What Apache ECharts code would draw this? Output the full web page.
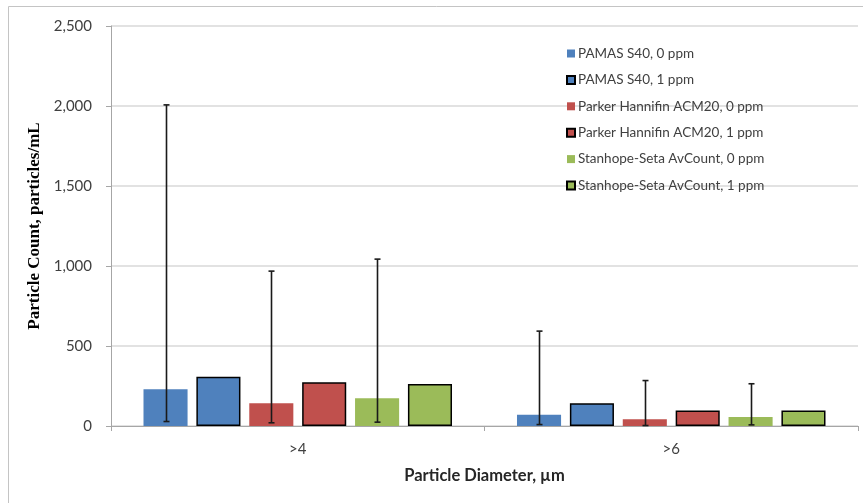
<!DOCTYPE html>
<html>
<head>
<meta charset="utf-8">
<script src="https://cdn.jsdelivr.net/npm/echarts@6/dist/echarts.min.js"></script>
<style>
  html, body { margin: 0; padding: 0; background: #fff; }
  #chart { width: 863px; height: 503px; }
</style>
</head>
<body>
<div id="chart"></div>
<script>
// Particle size classes on the x axis
const categories = ['>4', '>6'];

// Mean particle counts (particles/mL) per instrument and additive level
const pamas0 = [229, 71];
const pamas1 = [308, 142];
const parker0 = [142, 42];
const parker1 = [273, 97];
const stanhope0 = [173, 57];
const stanhope1 = [262, 97];

// Min / max ranges shown as error bars on the 0 ppm results
const pamas0Low = [28, 9];
const pamas0High = [2007, 593];
const parker0Low = [20, 3];
const parker0High = [968, 284];
const stanhope0Low = [24, 7];
const stanhope0High = [1043, 264];

// Y axis ticks
const yTicks = [0, 500, 1000, 1500, 2000, 2500];

const BLUE = '#4F81BD', RED = '#C0504D', GREEN = '#9BBB59';
const BAR_FRAC = 0.118;   // bar width as a share of the category band
const GAP_FRAC = 0.20;    // gap between bars as a share of bar width
const FONT = 'Lato, "Open Sans", sans-serif';

function barSeries(name, data, color, outlined) {
  return {
    name: name,
    type: 'bar',
    data: data,
    barWidth: (BAR_FRAC * 100) + '%',
    barGap: (GAP_FRAC * 100) + '%',
    itemStyle: outlined
      ? { color: color, borderColor: '#000', borderWidth: 1.5 }
      : { color: color, borderColor: color, borderWidth: 0 },
    emphasis: { disabled: true },
    z: 2
  };
}

// Range whiskers drawn at the centre of the bar in slot `slot`
function errorSeries(low, high, slot) {
  const data = categories.map((c, i) => [i, low[i], high[i]]);
  return {
    type: 'custom',
    silent: true,
    z: 5,
    data: data,
    renderItem: function (params, api) {
      const idx = api.value(0);
      const band = api.size([1, 0])[0];
      const bw = band * BAR_FRAC;
      const gap = bw * GAP_FRAC;
      const total = 6 * bw + 5 * gap;
      const off = -total / 2 + bw / 2 + slot * (bw + gap);
      const lo = api.coord([idx, api.value(1)]);
      const hi = api.coord([idx, api.value(2)]);
      const x = Math.round(lo[0] + off) + 0.5;
      const cap = 3;
      const style = { stroke: '#1a1a1a', lineWidth: 1.6 };
      return {
        type: 'group',
        children: [
          { type: 'line', shape: { x1: x, y1: hi[1], x2: x, y2: lo[1] }, style: style },
          { type: 'line', shape: { x1: x - cap, y1: hi[1], x2: x + cap, y2: hi[1] }, style: style },
          { type: 'line', shape: { x1: x - cap, y1: lo[1], x2: x + cap, y2: lo[1] }, style: style }
        ]
      };
    }
  };
}

const names = [
  'PAMAS S40, 0 ppm',
  'PAMAS S40, 1 ppm',
  'Parker Hannifin ACM20, 0 ppm',
  'Parker Hannifin ACM20, 1 ppm',
  'Stanhope-Seta AvCount, 0 ppm',
  'Stanhope-Seta AvCount, 1 ppm'
];

const chart = echarts.init(document.getElementById('chart'), null, { renderer: 'canvas' });

chart.setOption({
  animation: false,
  backgroundColor: '#fff',
  graphic: [{
    type: 'rect',
    shape: { x: 8.5, y: 6.5, width: 900, height: 600 },
    style: { fill: 'none', stroke: '#c4c4c4', lineWidth: 1 },
    silent: true,
    z: -1
  }],
  grid: { left: 111, right: 5, top: 26, bottom: 77 },
  legend: {
    orient: 'vertical',
    left: 566,
    top: 46.5,
    padding: 0,
    data: names,
    icon: 'rect',
    itemWidth: 8,
    itemHeight: 8,
    itemGap: 12.4,
    selectedMode: false,
    textStyle: { fontFamily: FONT, fontSize: 13.5, color: '#404040', padding: [0, 0, 0, -2] }
  },
  xAxis: {
    type: 'category',
    data: categories,
    name: 'Particle Diameter, µm',
    nameLocation: 'middle',
    nameGap: 41,
    nameTextStyle: { fontFamily: FONT, fontSize: 16.5, fontWeight: 'bold', color: '#262626' },
    axisLine: { lineStyle: { color: '#a6a6a6', width: 1 } },
    axisTick: { show: true, length: 5, lineStyle: { color: '#a6a6a6' } },
    axisLabel: { fontFamily: FONT, fontSize: 15, color: '#404040', margin: 16 },
    splitLine: { show: false }
  },
  yAxis: {
    type: 'value',
    min: yTicks[0],
    max: yTicks[yTicks.length - 1],
    interval: yTicks[1] - yTicks[0],
    name: 'Particle Count, particles/mL',
    nameLocation: 'middle',
    nameGap: 65,
    nameTextStyle: { fontFamily: '"Liberation Serif", "Times New Roman", serif', fontSize: 17, fontWeight: 'bold', color: '#000' },
    axisLine: { show: true, lineStyle: { color: '#a6a6a6', width: 1 } },
    axisTick: { show: true, length: 5, lineStyle: { color: '#a6a6a6' } },
    axisLabel: {
      fontFamily: FONT, fontSize: 15, color: '#404040', margin: 19,
      formatter: v => v.toLocaleString('en-US')
    },
    splitLine: { lineStyle: { color: '#d9d9d9', width: 1.5 } }
  },
  series: [
    barSeries(names[0], pamas0, BLUE, false),
    barSeries(names[1], pamas1, BLUE, true),
    barSeries(names[2], parker0, RED, false),
    barSeries(names[3], parker1, RED, true),
    barSeries(names[4], stanhope0, GREEN, false),
    barSeries(names[5], stanhope1, GREEN, true),
    errorSeries(pamas0Low, pamas0High, 0),
    errorSeries(parker0Low, parker0High, 2),
    errorSeries(stanhope0Low, stanhope0High, 4)
  ]
});
</script>
</body>
</html>
